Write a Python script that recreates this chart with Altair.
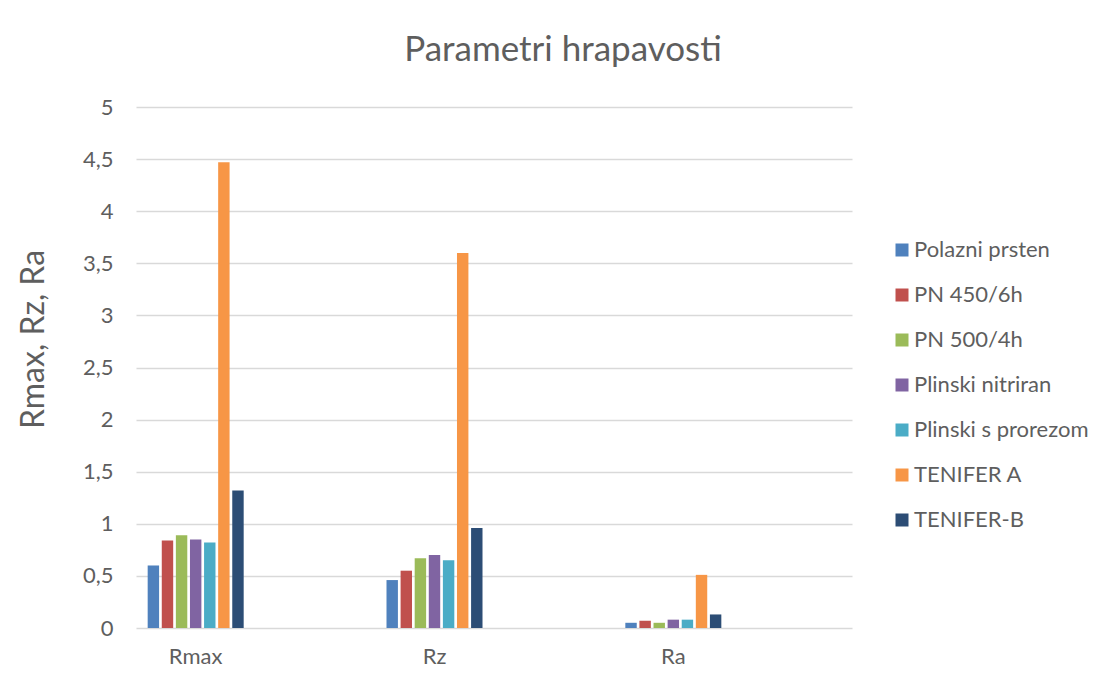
import altair as alt
import pandas as pd

categories = ["Rmax", "Rz", "Ra"]
series = ["Polazni prsten", "PN 450/6h", "PN 500/4h", "Plinski nitriran",
          "Plinski s prorezom", "TENIFER A", "TENIFER-B"]
polazni_prsten = [0.60, 0.46, 0.05]
pn_450_6h = [0.84, 0.55, 0.07]
pn_500_4h = [0.89, 0.67, 0.05]
plinski_nitriran = [0.85, 0.70, 0.08]
plinski_s_prorezom = [0.82, 0.65, 0.08]
tenifer_a = [4.47, 3.60, 0.51]
tenifer_b = [1.32, 0.96, 0.13]
colors = ["#4F81BD", "#C0504D", "#9BBB59", "#8064A2", "#4BACC6", "#F79646", "#2C4D75"]
y_ticks = [0, 0.5, 1, 1.5, 2, 2.5, 3, 3.5, 4, 4.5, 5]

all_values = [polazni_prsten, pn_450_6h, pn_500_4h, plinski_nitriran,
              plinski_s_prorezom, tenifer_a, tenifer_b]
rows = []
for s, vals in zip(series, all_values):
    for c, v in zip(categories, vals):
        rows.append({"Parametar": c, "Uzorak": s, "Vrijednost": v})
df = pd.DataFrame(rows)

FONT = "Lato"
TXT = "#5E5E5E"

chart = alt.Chart(df).mark_bar().encode(
    x=alt.X("Parametar:N", sort=categories,
            scale=alt.Scale(paddingInner=0.598, paddingOuter=0.298, align=0.082),
            axis=alt.Axis(title=None, labelAngle=0, labelFontSize=22, labelColor=TXT,
                          labelFont=FONT, domain=False, ticks=False, tickSize=0,
                          labelPadding=18, grid=False)),
    xOffset=alt.XOffset("Uzorak:N", sort=series,
                        scale=alt.Scale(paddingInner=0.19, paddingOuter=0)),
    y=alt.Y("Vrijednost:Q",
            scale=alt.Scale(domain=[0, 5], nice=False),
            axis=alt.Axis(title="Rmax, Rz, Ra", values=y_ticks,
                          labelExpr="replace(toString(datum.value), '.', ',')",
                          labelFontSize=22, labelColor=TXT, labelFont=FONT,
                          labelPadding=23, ticks=False, tickSize=0, domain=False,
                          gridColor="#D9D9D9", gridWidth=1.3,
                          titleFontSize=32, titleFont=FONT, titleColor=TXT,
                          titleFontWeight="normal", titleAngle=270,
                          titleX=-103, titleY=232, titleAlign="center",
                          titleBaseline="middle")),
    color=alt.Color("Uzorak:N", sort=series,
                    scale=alt.Scale(domain=series, range=colors),
                    legend=alt.Legend(title=None, orient="none", legendX=755, legendY=132,
                                      symbolType="square", symbolSize=169,
                                      symbolStrokeWidth=0, labelFontSize=22,
                                      labelFont=FONT, labelColor=TXT, labelOffset=1,
                                      rowPadding=23, padding=0, labelLimit=300)),
).properties(
    width=716,
    height=521,
    title=alt.TitleParams("Parametri hrapavosti", fontSize=35, font=FONT, color=TXT,
                          fontWeight="normal", anchor="middle", dx=69, offset=28),
    padding={"left": 128, "top": 99, "right": 244, "bottom": 48},
    autosize=alt.AutoSizeParams(type="none"),
).configure_view(stroke=None)

chart.save("out.html", embed_options={"renderer": "svg", "actions": False})
